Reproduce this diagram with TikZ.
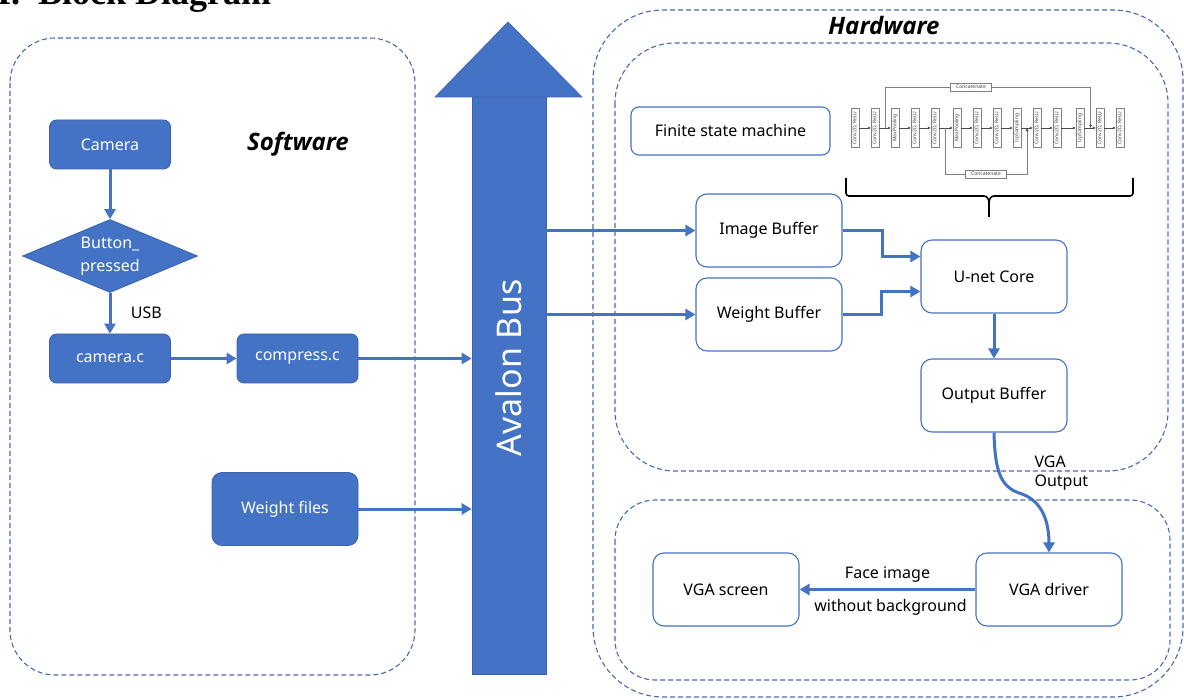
\documentclass[tikz,border=0pt]{standalone}
\usepackage{fontspec}
\usepackage{graphicx}
\setmainfont{Noto Sans}
\newfontfamily\serifhead{Liberation Serif}
\newfontfamily\ttlfont{Open Sans}
\usetikzlibrary{shapes.geometric,arrows.meta,calc}
\definecolor{bl}{HTML}{4472C4}
\definecolor{bld}{HTML}{3A62AC}
\definecolor{dsh}{HTML}{4A6AAE}
\begin{document}
\begin{tikzpicture}[x=1pt,y=-1pt,
  fillbox/.style={draw=bld, fill=bl, rounded corners=7pt, text=white, minimum width=121pt, minimum height=49pt, inner sep=0pt, font=\fontsize{16}{19}\selectfont, line width=0.8pt},
  hwbox/.style={draw=bl, fill=white, rounded corners=11pt, minimum width=146pt, minimum height=73pt, inner sep=0pt, font=\fontsize{16}{19}\selectfont, line width=1.1pt},
  conn/.style={draw=bl, line width=3pt, -{Triangle[length=10pt,width=11pt]}},
  dbox/.style={draw=dsh, dash pattern=on 5pt off 3pt, line width=1.1pt},
  lbl/.style={font=\fontsize{16}{19}\selectfont, text=black},
  ttl/.style={font=\ttlfont\fontsize{24}{28}\selectfont\bfseries\itshape, text=black},
  ulay/.style={draw=gray, fill=white, line width=0.5pt, minimum width=8pt, minimum height=39pt, inner sep=0pt, font=\fontsize{5}{5}\selectfont, text=darkgray},
  ucat/.style={draw=gray, fill=white, line width=0.5pt, inner sep=1pt, minimum width=41pt, minimum height=8pt, font=\fontsize{5}{5}\selectfont, text=darkgray},
  uarr/.style={draw=black!70, line width=0.5pt, -{Latex[length=3pt,width=3pt]}},
  uline/.style={draw=gray, line width=0.8pt},
]
\clip (0,0) rectangle (1184,700);
\fill[white] (0,0) rectangle (1184,700);

% heading (cut off at the top, as in the reference)
\node[anchor=base west, inner sep=0pt, font=\serifhead\bfseries\fontsize{36}{36}\selectfont] (head) at (-3,5) {I.\hspace{18pt}Block Diagram};

% dashed regions
\draw[dbox, rounded corners=45pt] (10,38) rectangle (415,675);
\draw[dbox, rounded corners=70pt] (593,10) rectangle (1183,697);
\draw[dbox, rounded corners=60pt] (615,43) rectangle (1168,471);
\draw[dbox, rounded corners=40pt] (615,500) rectangle (1170,680);

\node[ttl] (sw) at (298,144) {Software};
\node[ttl] (hw) at (884,26) {Hardware};

% Avalon bus
\node[fill=bl, draw=bld, line width=0.6pt, minimum width=74pt, minimum height=578pt, inner sep=0pt] (bus) at (509,385) {};
\fill[bl, draw=bld, line width=0.6pt] (473,97) -- (435,97) -- (508,22) -- (582,97) -- (545,97) -- cycle;
\node[rotate=90, text=white, font=\fontsize{34}{38}\selectfont] (buslbl) at (509,368) {Avalon Bus};

% software
\node[fillbox] (cam) at (110,144.5) {Camera};
\node[diamond, fill=bl, draw=bld, line width=0.8pt, text=white, minimum width=175pt, minimum height=73pt, aspect=2.4, inner sep=0pt, align=center, font=\fontsize{16}{23}\selectfont] (btn) at (110,256) {Button\_\\pressed};
\node[fillbox] (camc) at (110,358.5) {camera.c};
\node[fillbox] (comp) at (297.5,358.5) {compress.c};
\node[fillbox, minimum width=146pt, minimum height=73pt, rounded corners=10pt] (wf) at (285,509) {Weight files};

\draw[conn] (cam) -- (btn);
\draw[conn] (btn) -- node[lbl, anchor=west, xshift=16pt] {USB} (camc);
\draw[conn] (camc) -- (comp);
\draw[conn] (comp.east) -- (bus.west |- comp.east);
\draw[conn] (wf.east) -- (bus.west |- wf.east);

% hardware
\node[hwbox, minimum width=199pt, minimum height=48pt, rounded corners=8pt] (fsm) at (730.5,131) {Finite state machine};
\node[hwbox] (ib) at (769,230.5) {Image Buffer};
\node[hwbox] (wb) at (769,314.5) {Weight Buffer};
\node[hwbox] (unet) at (994,276.5) {U-net Core};
\node[hwbox] (ob) at (994,395.5) {Output Buffer};
\node[hwbox] (vgad) at (1049,589.5) {VGA driver};
\node[hwbox] (vgas) at (726,589.5) {VGA screen};

\draw[conn] (bus.east |- ib.west) -- (ib.west);
\draw[conn] (bus.east |- wb.west) -- (wb.west);
\draw[conn] (ib.east) -- ++(40,0) |- ([yshift=20pt]unet.west);
\draw[conn] (wb.east) -- ++(39,0) |- ([yshift=-15pt]unet.west);
\draw[conn] (unet) -- (ob);
\draw[conn] (ob.south) .. controls (995,475) and (1002,488) .. (1022,494) .. controls (1044,502) and (1049,525) .. (vgad.north);
\node[lbl, anchor=west, align=left] (vgaout) at (1031,473) {VGA\\Output};
\draw[conn] (vgad) -- node[lbl, above=2pt] {Face image} node[lbl, below=5pt, xshift=3pt] {without background} (vgas);

% U-net sketch
\foreach \i/\x/\t in {1/855/{Conv2D, ReLU},2/875/{Conv2D, ReLU},3/895/{MaxPooling},4/915/{Conv2D, ReLU},5/935/{Conv2D, ReLU},6/957/{MaxPooling},7/977/{Conv2D, ReLU},8/997/{Conv2D, ReLU},9/1017/{UpSampling},10/1037/{Conv2D, ReLU},11/1057/{Conv2D, ReLU},12/1080/{UpSampling},13/1100/{Conv2D, ReLU},14/1120/{Conv2D, ReLU}}
  \node[ulay] (u\i) at (\x,128) {\rotatebox{90}{\t}};
\foreach \a/\b in {1/2,2/3,3/4,4/5,5/6,6/7,7/8,8/9,9/10,10/11,11/12,12/13,13/14}
  \draw[uarr] (u\a.east) -- (u\b.west);
\coordinate (ca) at ($(u2.east)!0.5!(u3.west)$);
\coordinate (cb) at ($(u12.east)!0.55!(u13.west)$);
\coordinate (cc) at ($(u5.east)!0.45!(u6.west)$);
\coordinate (cd) at ($(u9.east)!0.5!(u10.west)$);
\draw[uline] (ca) -- ++(0,-41) -| ([yshift=3pt]cb);
\draw[uarr] ([yshift=3pt]cb) -- (cb);
\draw[uline] (cc) -- ++(0,46) -| ([yshift=-3pt]cd);
\draw[uarr] ([yshift=-3pt]cd) -- (cd);
\node[ucat] (cat1) at (971,87) {Concatenate};
\node[ucat] (cat2) at (986,174) {Concatenate};

% brace
\draw[black, line width=1.6pt, rounded corners=3pt] (846,178) |- (984,196);
\draw[black, line width=1.6pt] (984,196) to[out=0,in=90] (989,203) -- (989,217);
\draw[black, line width=1.6pt, rounded corners=3pt] (1133,178) |- (994,196);
\draw[black, line width=1.6pt] (994,196) to[out=180,in=90] (989,203);
\end{tikzpicture}
\end{document}
